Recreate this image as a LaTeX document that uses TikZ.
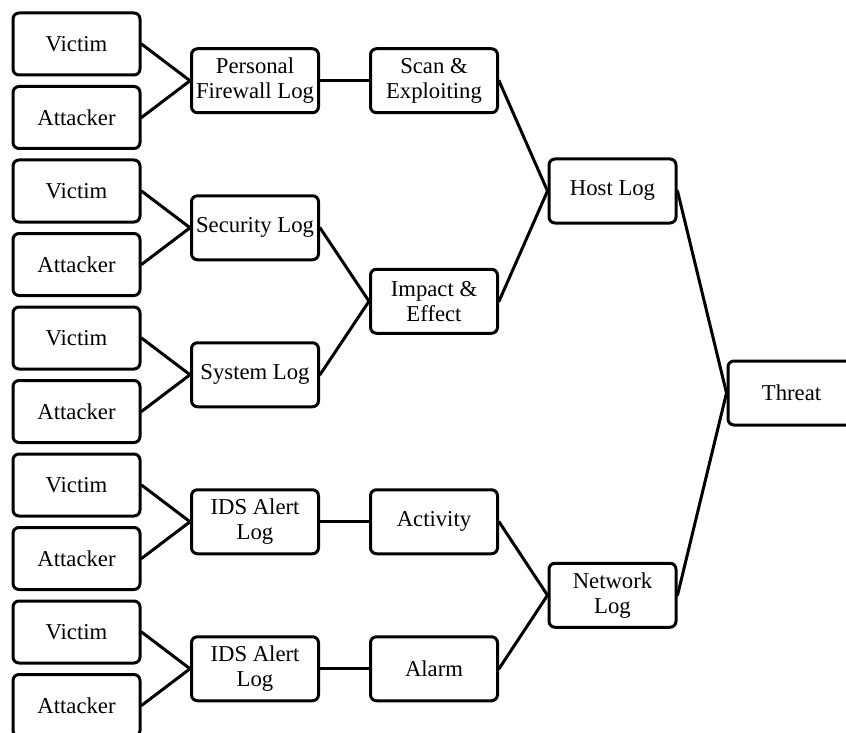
\documentclass[tikz,border=0pt]{standalone}
\usepackage{fontspec}
\setmainfont{Liberation Serif}
\begin{document}
\begin{tikzpicture}[x=1pt,y=-1pt,
  box/.style={draw=black, line width=3pt, rounded corners=6pt, fill=white,
    minimum width=127pt, minimum height=64pt, inner sep=1pt, align=center,
    font=\fontsize{22.7}{25}\selectfont},
  leaf/.style={box, minimum height=62pt},
  link/.style={line width=3pt, line cap=round, line join=round}]
\useasboundingbox (0,0) rectangle (846,733);
\clip (0,0) rectangle (846,733);

% source boxes, ten in a column
\foreach \i/\nm/\txt in {0/v1/Victim,1/a1/Attacker,2/v2/Victim,3/a2/Attacker,
    4/v3/Victim,5/a3/Attacker,6/v4/Victim,7/a4/Attacker,8/v5/Victim,9/a5/Attacker}
  \node[leaf] (\nm) at (76.5,{44+73.5*\i}) {\txt};

% log sources
\node[box] (pfw)  at (255,80.75)  {Personal\\Firewall Log};
\node[box] (sec)  at (255,227.75) {Security Log};
\node[box] (sys)  at (255,374.75) {System Log};
\node[box] (ids1) at (255,521.75) {IDS Alert\\Log};
\node[box] (ids2) at (255,668.75) {IDS Alert\\Log};

% event categories
\node[box] (scan)     at (434,80.75)  {Scan \&\\Exploiting};
\node[box] (impact)   at (434,301.25) {Impact \&\\Effect};
\node[box] (activity) at (434,521.75) {Activity};
\node[box] (alarm)    at (434,668.75) {Alarm};

% log groups and result
\node[box] (host)   at (612.5,191)    {Host Log};
\node[box] (net)    at (612.5,595.25) {Network\\Log};
\node[box] (threat) at (791.5,393)    {Threat};

% connectors
\foreach \s/\t in {v1/pfw,a1/pfw,v2/sec,a2/sec,v3/sys,a3/sys,v4/ids1,a4/ids1,v5/ids2,a5/ids2,
    pfw/scan,sec/impact,sys/impact,ids1/activity,ids2/alarm,
    scan/host,impact/host,activity/net,alarm/net,host/threat,net/threat}
  \draw[link] (\s.east) -- (\t.west);
\end{tikzpicture}
\end{document}
